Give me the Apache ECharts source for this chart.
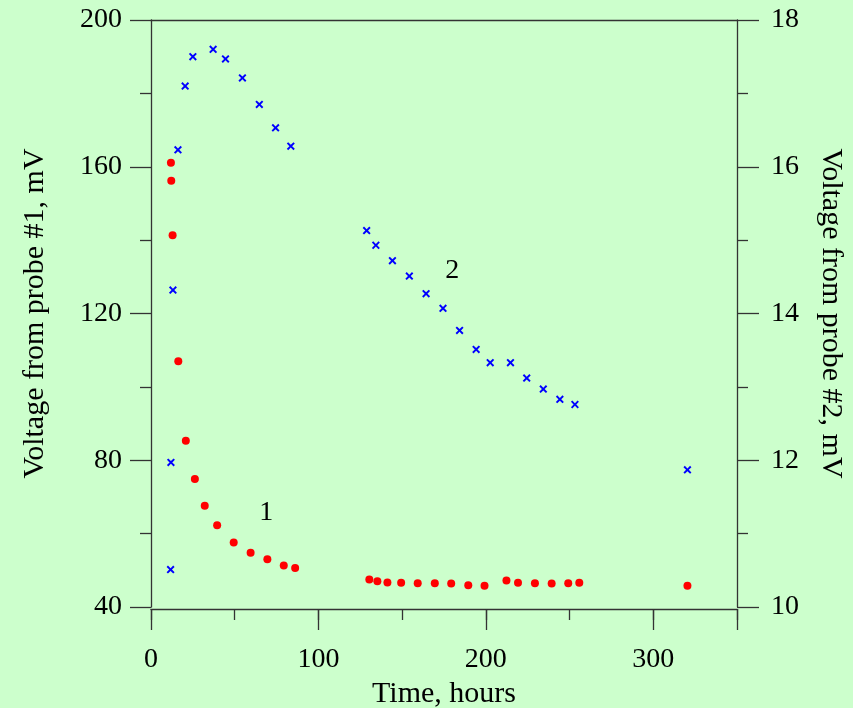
<!DOCTYPE html>
<html>
<head>
<meta charset="utf-8">
<script src="https://cdn.jsdelivr.net/npm/echarts@6/dist/echarts.min.js"></script>
<style>
html,body{margin:0;padding:0;background:#ccffcc;}
#chart{width:853px;height:708px;}
</style>
</head>
<body>
<div id="chart"></div>
<script>
// Probe #1 (left axis, mV) — red dots
var probe1Time = [11.9,12.1,12.9,16.3,20.8,26.2,32.1,39.5,49.4,59.5,69.5,79.3,86.1,130.4,135.2,141.2,149.4,159.3,169.5,179.3,189.5,199.2,212.3,219.2,229.3,239.3,249.2,255.8,320.4];
var probe1Volt = [161.1,156.2,141.3,107.0,85.3,74.9,67.6,62.3,57.6,54.8,53.0,51.3,50.6,47.5,47.0,46.7,46.6,46.5,46.5,46.4,45.9,45.8,47.2,46.6,46.5,46.4,46.5,46.6,45.8];
// Probe #2 (right axis, mV) — blue crosses
var probe2Time = [11.7,11.9,13.1,16.1,20.4,25.0,37.1,44.5,54.6,64.7,74.4,83.5,128.8,134.3,144.2,154.3,164.3,174.4,184.3,194.2,202.6,214.7,224.4,234.3,244.2,253.2,320.4];
var probe2Volt = [10.51,11.97,14.32,16.23,17.10,17.50,17.60,17.47,17.21,16.85,16.53,16.28,15.13,14.93,14.72,14.51,14.27,14.07,13.77,13.51,13.33,13.33,13.12,12.97,12.83,12.76,11.87];
// Axis ticks
var xTicks = [0,100,200,300];
var leftTicks = [40,80,120,160,200];
var rightTicks = [10,12,14,16,18];
// Curve labels
var label1 = {text:'1', x:68.9, y:65.7};
var label2 = {text:'2', x:180, y:14.59};

var FONT = '"Liberation Serif", "Times New Roman", serif';
var AX = '#333';

function zip(a,b){return a.map(function(v,i){return [v,b[i]];});}

var chart = echarts.init(document.getElementById('chart'));
chart.setOption({
  backgroundColor:'#ccffcc',
  animation:false,
  grid:{left:151,right:116,top:20,bottom:101,containLabel:false,outerBoundsMode:'none'},
  xAxis:[
    {type:'value',position:'bottom',offset:2,min:0,max:350,interval:100,
     axisLine:{show:true,onZero:false,lineStyle:{color:AX,width:1.3}},
     axisTick:{show:true,inside:false,length:21,lineStyle:{color:AX,width:1.3}},
     axisLabel:{show:true,margin:37,color:'#000',fontSize:28,fontFamily:FONT,
       formatter:function(v){return xTicks.indexOf(v)>=0?String(v):'';}},
     splitLine:{show:false},
     name:'Time, hours',nameLocation:'middle',nameGap:67,
     nameTextStyle:{color:'#000',fontSize:30,fontFamily:FONT}},
    {type:'value',position:'bottom',offset:2,min:0,max:350,interval:50,
     axisLine:{show:false,onZero:false},
     axisTick:{show:true,inside:false,length:11,lineStyle:{color:AX,width:1.3}},
     axisLabel:{show:false},splitLine:{show:false}},
    {type:'value',position:'top',offset:0,min:0,max:350,
     axisLine:{show:true,onZero:false,lineStyle:{color:AX,width:1.3}},
     axisTick:{show:false},axisLabel:{show:false},splitLine:{show:false}}
  ],
  yAxis:[
    {type:'value',position:'left',offset:0,min:40,max:200,interval:40,
     axisLine:{show:true,onZero:false,lineStyle:{color:AX,width:1.3}},
     axisTick:{show:true,inside:false,length:21,lineStyle:{color:AX,width:1.3}},
     minorTick:{show:true,splitNumber:2,length:11,lineStyle:{color:AX,width:1.3}},
     axisLabel:{margin:29,color:'#000',fontSize:28,fontFamily:FONT,
       formatter:function(v){return leftTicks.indexOf(v)>=0?String(v):'';}},
     splitLine:{show:false},
     name:'Voltage from probe #1, mV',nameLocation:'middle',nameGap:101,nameRotate:90,
     nameTextStyle:{color:'#000',fontSize:30,fontFamily:FONT}},
    {type:'value',position:'right',offset:0,min:10,max:18,interval:2,
     axisLine:{show:true,onZero:false,lineStyle:{color:AX,width:1.3}},
     axisTick:{show:true,inside:false,length:22,lineStyle:{color:AX,width:1.3}},
     minorTick:{show:true,splitNumber:2,length:11,lineStyle:{color:AX,width:1.3}},
     axisLabel:{margin:34,color:'#000',fontSize:28,fontFamily:FONT,
       formatter:function(v){return rightTicks.indexOf(v)>=0?String(v):'';}},
     splitLine:{show:false},
     name:'Voltage from probe #2, mV',nameLocation:'middle',nameGap:79,nameRotate:-90,
     nameTextStyle:{color:'#000',fontSize:30,fontFamily:FONT}}
  ],
  series:[
    {type:'scatter',name:'Probe 1',xAxisIndex:0,yAxisIndex:0,
     data:zip(probe1Time,probe1Volt),symbol:'circle',symbolSize:8,
     itemStyle:{color:'#ff0000',opacity:1},
     markPoint:{symbol:'circle',symbolSize:0,silent:true,
       label:{show:true,position:'inside',color:'#000',fontSize:28,fontFamily:FONT,formatter:label1.text},
       data:[{coord:[label1.x,label1.y]}]}},
    {type:'scatter',name:'Probe 2',xAxisIndex:0,yAxisIndex:1,
     data:zip(probe2Time,probe2Volt),
     symbol:'path://M0,1.7L1.7,0L5,3.3L8.3,0L10,1.7L6.7,5L10,8.3L8.3,10L5,6.7L1.7,10L0,8.3L3.3,5Z',
     symbolSize:8,itemStyle:{color:'#0000ff',opacity:1},
     markPoint:{symbol:'circle',symbolSize:0,silent:true,
       label:{show:true,position:'inside',color:'#000',fontSize:28,fontFamily:FONT,formatter:label2.text},
       data:[{coord:[label2.x,label2.y]}]}}
  ]
});
</script>
</body>
</html>
